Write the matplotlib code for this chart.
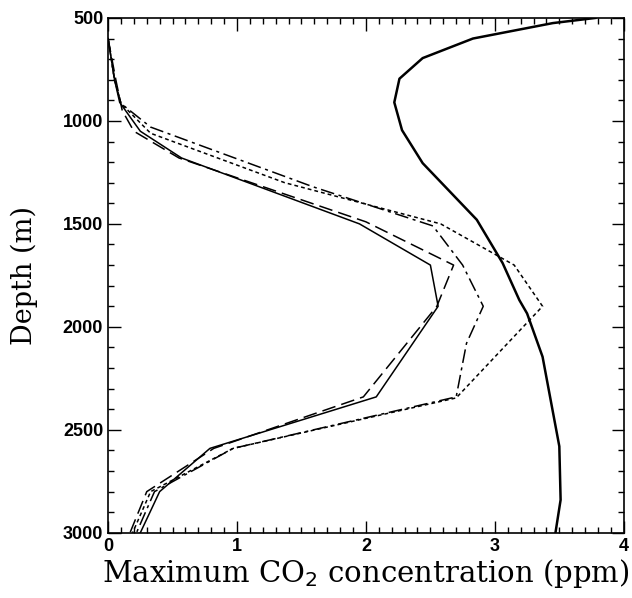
import numpy as np
import matplotlib
matplotlib.use("Agg")
import matplotlib.pyplot as plt
from matplotlib.ticker import MultipleLocator

# thick solid curve (right)
d_thick = [500, 525, 600, 695, 795, 910, 1045, 1205, 1480, 1690, 1870, 1935, 2145, 2580, 2840, 3000]
c_thick = [3.78, 3.45, 2.83, 2.44, 2.26, 2.22, 2.28, 2.44, 2.86, 3.06, 3.19, 3.25, 3.37, 3.50, 3.51, 3.47]

# thin solid
d_solid = [600, 800, 910, 1050, 1180, 1500, 1700, 1900, 2340, 2590, 2800, 3000]
c_solid = [0.0, 0.05, 0.09, 0.25, 0.57, 1.95, 2.50, 2.56, 2.08, 0.79, 0.40, 0.25]

# long dashed
d_dash = [600, 800, 950, 1050, 1180, 1490, 1700, 1900, 2340, 2590, 2800, 3000]
c_dash = [0.0, 0.06, 0.11, 0.20, 0.55, 2.00, 2.68, 2.55, 1.98, 0.82, 0.30, 0.17]

# short dashed (dotted)
d_dot = [600, 800, 915, 1060, 1300, 1500, 1700, 1900, 2345, 2590, 2800, 3000]
c_dot = [0.0, 0.05, 0.10, 0.33, 1.37, 2.58, 3.15, 3.37, 2.70, 0.97, 0.33, 0.19]

# dash-dot
d_dd = [600, 800, 915, 1030, 1320, 1510, 1700, 1900, 2080, 2340, 2590, 2800, 3000]
c_dd = [0.0, 0.05, 0.10, 0.33, 1.59, 2.52, 2.75, 2.91, 2.78, 2.70, 0.97, 0.36, 0.22]

fig = plt.figure(figsize=(6.32, 5.98), dpi=100)
ax = fig.add_axes([0.171, 0.109, 0.816, 0.861])

ax.plot(c_thick, d_thick, color="black", lw=1.8)
ax.plot(c_solid, d_solid, color="black", lw=1.1)
ax.plot(c_dash, d_dash, color="black", lw=1.1, dashes=(9, 4))
ax.plot(c_dot, d_dot, color="black", lw=1.1, dashes=(2.5, 2))
ax.plot(c_dd, d_dd, color="black", lw=1.1, dashes=(9, 3, 2, 3))

ax.set_xlim(0, 4)
ax.set_ylim(3000, 500)
ax.xaxis.set_major_locator(MultipleLocator(1))
ax.xaxis.set_minor_locator(MultipleLocator(0.1))
ax.yaxis.set_major_locator(MultipleLocator(500))
ax.yaxis.set_minor_locator(MultipleLocator(100))
ax.tick_params(which="both", direction="in", top=True, right=True, width=1.0)
ax.tick_params(which="major", length=9)
ax.tick_params(which="minor", length=4)
for s in ax.spines.values():
    s.set_linewidth(1.2)

for lab in ax.get_xticklabels() + ax.get_yticklabels():
    lab.set_fontfamily("Liberation Sans")
    lab.set_fontweight("bold")
    lab.set_fontsize(13)

plt.rcParams["mathtext.fontset"] = "dejavuserif"
ax.set_xlabel("Maximum CO$_2$ concentration (ppm)", fontfamily="DejaVu Serif",
              fontsize=21, labelpad=2)
ax.set_ylabel("Depth (m)", fontfamily="DejaVu Serif", fontsize=19.5, labelpad=18)

fig.savefig("out.png", dpi=100)
